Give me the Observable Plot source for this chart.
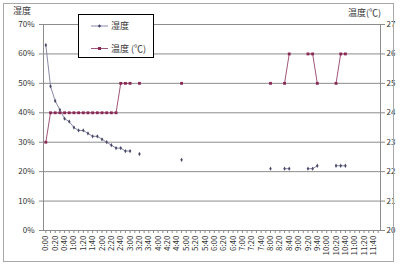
<!DOCTYPE html>
<html><head><meta charset="utf-8">
<script src="https://cdn.jsdelivr.net/npm/d3@7"></script>
<script src="https://cdn.jsdelivr.net/npm/@observablehq/plot@0.6"></script>
<style>
html,body{margin:0;padding:0;background:#fff;}
#wrap{position:relative;width:400px;height:266px;overflow:hidden;font-family:"Noto Sans CJK JP",sans-serif;}
#wrap svg{position:absolute;left:0;top:0;}
.border{position:absolute;left:3px;top:3px;width:391px;height:259px;border:1px solid #a8a8a8;box-sizing:border-box;}
.ttl{position:absolute;font-size:9px;color:#333;line-height:1;}
.legend{position:absolute;left:78px;top:14px;width:76px;height:44px;border:1px solid #000;background:#fff;box-sizing:border-box;}
.legend .row{position:absolute;left:0;font-size:9px;color:#333;line-height:1;}
</style></head>
<body><div id="wrap"></div>
<script>
const times = ["0:00","0:10","0:20","0:30","0:40","0:50","1:00","1:10","1:20","1:30","1:40","1:50",
"2:00","2:10","2:20","2:30","2:40","2:50","3:00","3:10","3:20","3:30","3:40","3:50",
"4:00","4:10","4:20","4:30","4:40","4:50","5:00","5:10","5:20","5:30","5:40","5:50",
"6:00","6:10","6:20","6:30","6:40","6:50","7:00","7:10","7:20","7:30","7:40","7:50",
"8:00","8:10","8:20","8:30","8:40","8:50","9:00","9:10","9:20","9:30","9:40","9:50",
"10:00","10:10","10:20","10:30","10:40","10:50","11:00","11:10","11:20","11:30","11:40","11:50"];
const tickLabels = ["0:00","0:20","0:40","1:00","1:20","1:40","2:00","2:20","2:40","3:00","3:20","3:40",
"4:00","4:20","4:40","5:00","5:20","5:40","6:00","6:20","6:40","7:00","7:20","7:40",
"8:00","8:20","8:40","9:00","9:20","9:40","10:00","10:20","10:40","11:00","11:20","11:40"];
// 湿度 (%)
const humidity = [63,49,44,41,38,37,35,34,34,33,
32,32,31,30,29,28,28,27,27,null,
26,null,null,null,null,null,null,null,null,24,
null,null,null,null,null,null,null,null,null,null,
null,null,null,null,null,null,null,null,
21,null,null,21,21,null,null,null,21,21,
22,null,null,null,22,22,22,null,null,null,
null,null];
// 温度 (℃)
const temperature = [23,24,24,24,24,24,24,24,24,24,
24,24,24,24,24,24,25,25,25,null,
25,null,null,null,null,null,null,null,null,25,
null,null,null,null,null,null,null,null,null,null,
null,null,null,null,null,null,null,null,
25,null,null,25,26,null,null,null,26,26,
25,null,null,null,25,26,26,null,null,null,
null,null];
const leftTicks = [0,10,20,30,40,50,60,70];     // %
const rightTicks = [20,21,22,23,24,25,26,27];   // ℃

const rows = times.map((t,i)=>({t, h: humidity[i], c: temperature[i]}));
const labelSet = new Set(tickLabels);
const yT = leftTicks.map(d=>d/100);
const hY = d => d.h == null ? null : d.h/100;
const cY = d => d.c == null ? null : (d.c-20)/10;   // 20℃→0, 27℃→0.7 on the shared scale

const chart = Plot.plot({
  width: 400, height: 266,
  marginLeft: 43, marginRight: 20, marginTop: 24, marginBottom: 36,
  style: {fontFamily: "'Noto Sans CJK JP', sans-serif", fontSize: "8px", color: "#333", background: "transparent", overflow: "visible"},
  x: {type: "point", domain: times, padding: 0.5, align: 0.5},
  y: {domain: [0, 0.7]},
  marks: [
    Plot.ruleY(yT, {stroke: "#8c8c8c", strokeWidth: 1}),
    Plot.frame({stroke: "#8c8c8c"}),
    Plot.axisY(yT, {anchor: "left", tickFormat: d => Math.round(d*100) + "%", tickSize: 4, tickPadding: 5, stroke: "#8c8c8c", label: null}),
    Plot.axisY(rightTicks.map(c => (c-20)/10), {anchor: "right", tickFormat: d => String(Math.round(20 + d*10)), tickSize: 4, tickPadding: 2, stroke: "#8c8c8c", label: null}),
    Plot.axisX(times, {anchor: "bottom", tickRotate: -90, tickFormat: d => labelSet.has(d) ? d : "", tickSize: 3, tickPadding: 2, stroke: "#8c8c8c", label: null}),
    Plot.line(rows, {x: "t", y: hY, stroke: "#8a8aaa", strokeWidth: 1}),
    Plot.dot(rows, {x: "t", y: hY, symbol: "diamond", r: 1.3, fill: "#4a4a68", stroke: "none"}),
    Plot.line(rows, {x: "t", y: cY, stroke: "#a0557a", strokeWidth: 1}),
    Plot.dot(rows, {x: "t", y: cY, symbol: "square", r: 1.6, fill: "#8a2855", stroke: "none"})
  ]
});
const wrap = document.getElementById("wrap");
wrap.appendChild(chart);
wrap.insertAdjacentHTML("beforeend", `
<div class="border"></div>
<div class="ttl" style="left:13px;top:6px;">湿度</div>
<div class="ttl" style="left:348px;top:8px;">温度(℃)</div>
<div class="legend">
  <svg width="76" height="44" style="position:absolute;left:0;top:0;">
    <line x1="12" x2="29" y1="11" y2="11" stroke="#8a8aaa"/>
    <rect x="19.3" y="9.8" width="2.4" height="2.4" fill="#4a4a68" transform="rotate(45 20.5 11)"/>
    <line x1="12" x2="29" y1="33.5" y2="33.5" stroke="#a0557a"/>
    <rect x="19" y="32" width="3" height="3" fill="#8a2855"/>
  </svg>
  <div class="row" style="left:32px;top:6px;">湿度</div>
  <div class="row" style="left:32px;top:28.5px;">温度 (℃)</div>
</div>`);
</script>
</body></html>
